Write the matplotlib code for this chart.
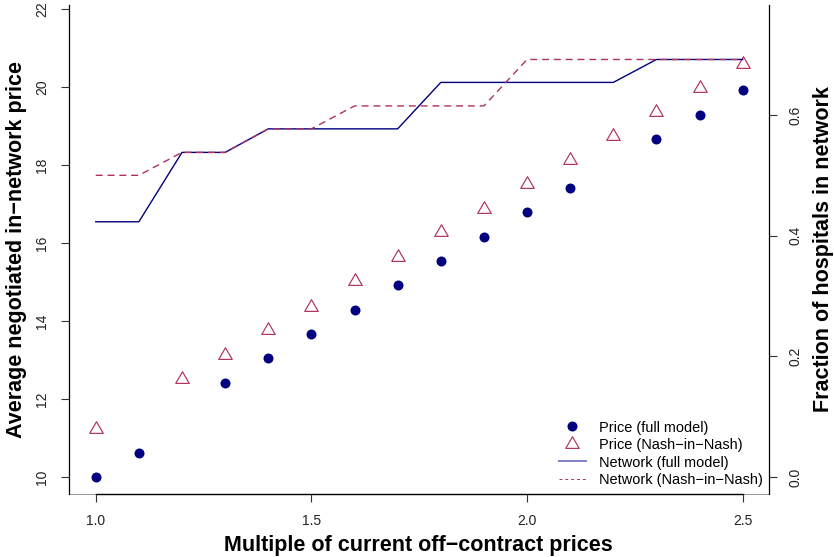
import numpy as np
import matplotlib
matplotlib.use("Agg")
import matplotlib.pyplot as plt
from matplotlib.path import Path
from matplotlib.lines import Line2D

plt.rcParams['font.family'] = ['Liberation Sans', 'DejaVu Sans']

# Multiple of current off-contract prices
multiple = [1.0, 1.1, 1.2, 1.3, 1.4, 1.5, 1.6, 1.7, 1.8, 1.9, 2.0, 2.1, 2.2, 2.3, 2.4, 2.5]

# Average negotiated in-network price (None = not solved at that multiple)
price_full = [10.00, 10.61, None, 12.40, 13.05, 13.66, 14.28, 14.91,
              15.53, 16.15, 16.79, 17.40, None, 18.66, 19.27, 19.91]
price_nash = [11.24, None, 12.51, 13.14, 13.76, 14.37, 15.03, 15.65,
              16.28, 16.88, 17.51, 18.12, 18.74, 19.35, 19.97, 20.60]

# Fraction of hospitals in network
network_full = [0.423, 0.423, 0.538, 0.538, 0.577, 0.577, 0.577, 0.577,
                0.654, 0.654, 0.654, 0.654, 0.654, 0.692, 0.692, 0.692]
network_nash = [0.500, 0.500, 0.538, 0.538, 0.577, 0.577, 0.615, 0.615,
                0.615, 0.615, 0.692, 0.692, 0.692, 0.692, 0.692, 0.692]

x_ticks = [1.0, 1.5, 2.0, 2.5]
x_tick_labels = ["1.0", "1.5", "2.0", "2.5"]
price_ticks = [10, 12, 14, 16, 18, 20, 22]
network_ticks = [0.0, 0.2, 0.4, 0.6]
network_tick_labels = ["0.0", "0.2", "0.4", "0.6"]

NAVY = "#000080"
MAROON = "#B03060"

def to_float(values):
    return np.array([np.nan if v is None else v for v in values], dtype=float)

# open triangle centred on its centroid
tri = Path([(0, 1), (-0.866, -0.5), (0.866, -0.5), (0, 1)],
           [Path.MOVETO, Path.LINETO, Path.LINETO, Path.CLOSEPOLY])

W, H = 834, 557
fig = plt.figure(figsize=(W / 100, H / 100), dpi=100)
ax = fig.add_axes([69 / W, 63 / H, 699.5 / W, 489 / H])
ax.set_xlim(0.938, 2.5598)
ax.set_ylim(9.564, 22.10)

ax2 = ax.twinx()
ax2.set_ylim(-0.0282, 0.7823)

x = np.array(multiple)
ax.plot(x, to_float(price_full), linestyle='none', marker='o', markersize=7.2,
        color=NAVY, markeredgewidth=0, zorder=3)
ax.plot(x, to_float(price_nash), linestyle='none', marker=tri, markersize=11.2,
        markerfacecolor='none', markeredgecolor=MAROON, markeredgewidth=0.85, zorder=3)

ax2.plot(x, network_full, color=NAVY, lw=1.0, zorder=2)
ax2.plot(x, network_nash, color=MAROON, lw=1.0, dashes=(5, 3.5), zorder=2)

# spines and axes in base-graphics style
for s in ['top', 'right']:
    ax.spines[s].set_visible(False)
for s in ['top', 'left', 'bottom']:
    ax2.spines[s].set_visible(False)
ax.spines['left'].set_linewidth(0.9)
ax.spines['bottom'].set_bounds(1.0, 2.5)
ax.spines['bottom'].set_linewidth(1.0)
ax2.spines['right'].set_linewidth(0.9)
ax.plot([0, 1], [0, 0], transform=ax.transAxes, color='#999999', lw=0.7,
        clip_on=False, zorder=0)

ax.set_xticks(x_ticks)
ax.set_xticklabels(x_tick_labels)
ax.set_yticks(price_ticks)
ax.set_yticklabels([str(t) for t in price_ticks])
ax2.set_yticks(network_ticks)
ax2.set_yticklabels(network_tick_labels)

tick_kw = dict(length=5.6, width=0.8, color='#333333', labelcolor='#222222',
               labelsize=10, pad=8.5)
ax.tick_params(axis='x', **tick_kw)
ax.tick_params(axis='y', labelrotation=90, **tick_kw)
ax2.tick_params(axis='y', labelrotation=90, **tick_kw)
for lab in ax.get_yticklabels() + ax2.get_yticklabels():
    lab.set_va('center')

lab_kw = dict(fontsize=15.5, fontweight='bold')
ax.set_xlabel("Multiple of current off\u2212contract prices", **lab_kw)
ax.xaxis.set_label_coords(0.5, (494 - 545.5) / 489)
ax.xaxis.label.set_va('center')
ax.set_ylabel("Average negotiated in\u2212network price", **lab_kw)
ax.yaxis.set_label_coords((16.5 - 69) / 699.5, 0.5)
ax.yaxis.label.set_va('center')
ax2.set_ylabel("Fraction of hospitals in network", **lab_kw)
ax2.yaxis.set_label_coords((823.5 - 69) / 699.5, 0.5)
ax2.yaxis.label.set_va('center')

handles = [
    Line2D([], [], linestyle='none', marker='o', markersize=7.2, color=NAVY,
           markeredgewidth=0),
    Line2D([], [], linestyle='none', marker=tri, markersize=11.2,
           markerfacecolor='none', markeredgecolor=MAROON, markeredgewidth=0.85),
    Line2D([], [], color='#8080C8', lw=1.4),
    Line2D([], [], color=MAROON, lw=0.7, dashes=(3, 3)),
]
labels = ["Price (full model)", "Price (Nash\u2212in\u2212Nash)",
          "Network (full model)", "Network (Nash\u2212in\u2212Nash)"]
ax2.legend(handles, labels, loc='lower left',
           bbox_to_anchor=((559 - 69) / 699.5, (494 - 487) / 489),
           frameon=False, fontsize=10.45, handlelength=1.86, handletextpad=0.9,
           labelspacing=0.24, borderpad=0, borderaxespad=0, numpoints=1)

fig.savefig("out.png", dpi=100)
